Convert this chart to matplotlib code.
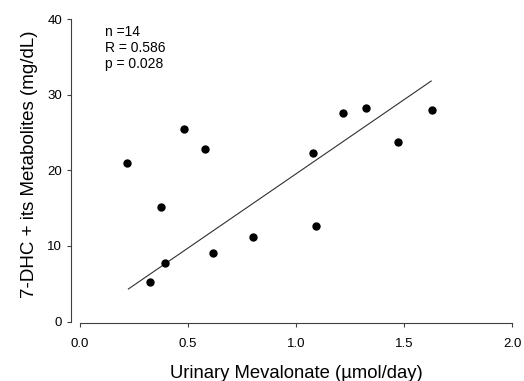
import numpy as np
import matplotlib
matplotlib.use("Agg")
import matplotlib.pyplot as plt

plt.rcParams['font.family'] = ['Liberation Sans', 'DejaVu Sans']

# urinary mevalonate (umol/day) vs 7-DHC + metabolites (mg/dL)
mevalonate = [0.218, 0.324, 0.375, 0.394, 0.481, 0.579, 0.616,
              0.801, 1.079, 1.093, 1.218, 1.324, 1.472, 1.630]
dhc = [20.9, 5.2, 15.1, 7.7, 25.4, 22.8, 9.1,
       11.2, 22.3, 12.6, 27.6, 28.2, 23.7, 28.0]
# regression line as drawn in the figure (end points)
fit_x = [0.224, 1.626]
fit_y = [4.3, 31.8]
xticks = [0.0, 0.5, 1.0, 1.5, 2.0]
yticks = [0, 10, 20, 30, 40]
stats_lines = ["n =14", "R = 0.586", "p = 0.028"]

W, H = 524, 381
fig = plt.figure(figsize=(W / 100, H / 100), dpi=100)
ax = fig.add_axes([80 / W, (H - 321.5) / H, 432 / W, 302.5 / H])

ax.plot(mevalonate, dhc, 'o', color='black', ms=5, mec='black', zorder=3)
ax.plot(fit_x, fit_y, color='#303030', lw=0.8)

ax.set_xlim(0, 2.0)
ax.set_ylim(0, 40)
ax.set_xticks(xticks)
ax.set_xticklabels(["%.1f" % t for t in xticks])
ax.set_yticks(yticks)

for s in ['top', 'right']:
    ax.spines[s].set_visible(False)
ax.spines['left'].set_position(('outward', 6.5))
ax.spines['bottom'].set_position(('outward', 0.8))
for s in ['left', 'bottom']:
    ax.spines[s].set_linewidth(0.8)
    ax.spines[s].set_color('#404040')

ax.tick_params(direction='out', length=3, width=0.8, color='#404040',
               labelsize=9.5)
ax.tick_params(axis='x', pad=8)
ax.tick_params(axis='y', pad=3.5)

ax.set_xlabel("Urinary Mevalonate (\u00b5mol/day)", fontsize=13.3)
ax.set_ylabel("7-DHC + its Metabolites (mg/dL)", fontsize=13.5)
ax.xaxis.set_label_coords(0.5, -0.145)
ax.yaxis.set_label_coords(-0.097, 0.52)

for txt, yy in zip(stats_lines, [38.3, 36.2, 34.1]):
    ax.text(0.115, yy, txt, fontsize=10, va='center', ha='left')

fig.savefig("out.png", dpi=100)
